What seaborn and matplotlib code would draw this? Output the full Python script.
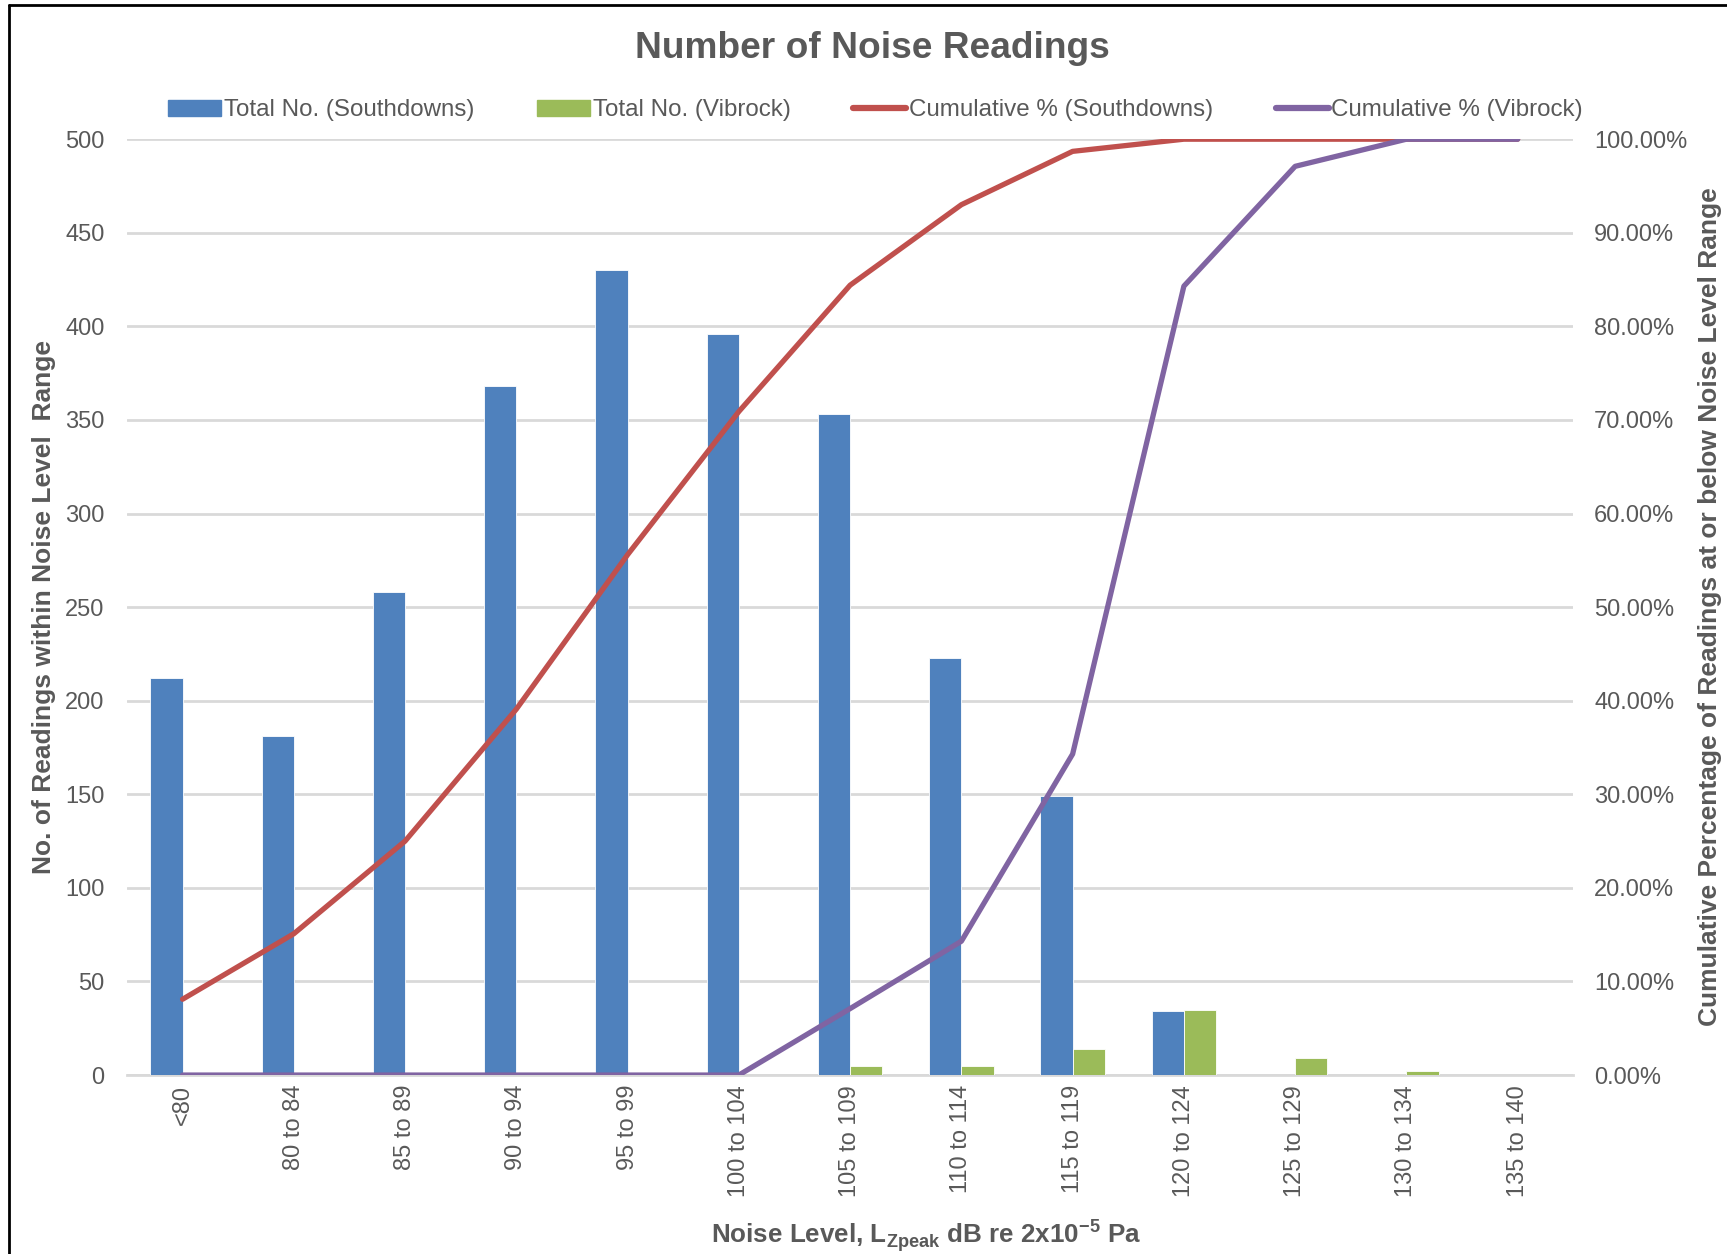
import numpy as np
import pandas as pd
import matplotlib
matplotlib.use("Agg")
import matplotlib.pyplot as plt
import seaborn as sns
from matplotlib.patches import Patch
from matplotlib.lines import Line2D
from matplotlib.ticker import FuncFormatter

# data
categories = ["<80", "80 to 84", "85 to 89", "90 to 94", "95 to 99", "100 to 104",
              "105 to 109", "110 to 114", "115 to 119", "120 to 124", "125 to 129",
              "130 to 134", "135 to 140"]
total_southdowns = [212, 181, 258, 368, 430, 396, 353, 223, 149, 34, 0, 0, 0]
total_vibrock = [0, 0, 0, 0, 0, 0, 5, 5, 14, 35, 9, 2, 0]
cum_southdowns = [8.1, 15.1, 25.0, 39.1, 55.6, 70.9, 84.4, 93.0, 98.7, 100, 100, 100, 100]
cum_vibrock = [0, 0, 0, 0, 0, 0, 7.1, 14.3, 34.3, 84.3, 97.1, 100, 100]

blue = "#4F81BD"
green = "#9BBB59"
red = "#C0504D"
purple = "#8064A2"
grey_text = "#595959"
grid_col = "#D9D9D9"

sns.set_style("white")
plt.rcParams["font.family"] = ["Liberation Sans", "DejaVu Sans"]
plt.rcParams["mathtext.fontset"] = "custom"
plt.rcParams["mathtext.rm"] = "Liberation Sans:bold"
plt.rcParams["mathtext.bf"] = "Liberation Sans:bold"

df = pd.DataFrame({
    "range": categories * 2,
    "count": total_southdowns + total_vibrock,
    "source": ["Southdowns"] * len(categories) + ["Vibrock"] * len(categories),
})

fig = plt.figure(figsize=(17.27, 12.54), dpi=100)
ax = fig.add_axes([0.0735, 0.1427, 0.8375, 0.7463])

sns.barplot(data=df, x="range", y="count", hue="source", order=categories,
            hue_order=["Southdowns", "Vibrock"], palette=[blue, green],
            saturation=1, width=0.58, gap=0, legend=False, ax=ax,
            edgecolor="white", linewidth=0.6, zorder=3)

ax.set_xlim(-0.5, len(categories) - 0.5)
ax.set_ylim(0, 500)
ax.set_yticks(range(0, 501, 50))
ax.yaxis.grid(True, color=grid_col, linewidth=2)
ax.set_axisbelow(True)
for s in ["top", "right", "left"]:
    ax.spines[s].set_visible(False)
ax.spines["bottom"].set_color(grid_col)
ax.spines["bottom"].set_linewidth(2)
ax.tick_params(axis="y", length=0, pad=16, labelsize=17, labelcolor=grey_text)
ax.tick_params(axis="x", length=0, pad=7, labelsize=17, labelcolor=grey_text)
ax.set_xticks(range(len(categories)))
ax.set_xticklabels(categories, rotation=90)
ax.set_xlabel("")
ax.set_ylabel("")

ax2 = ax.twinx()
pos = np.arange(len(categories))
sns.lineplot(x=pos, y=cum_southdowns, ax=ax2, color=red, linewidth=3.8)
sns.lineplot(x=pos, y=cum_vibrock, ax=ax2, color=purple, linewidth=3.8)
ax2.set_ylim(0, 100)
ax2.set_yticks(range(0, 101, 10))
ax2.yaxis.set_major_formatter(FuncFormatter(lambda v, p: f"{v:.2f}%"))
ax2.tick_params(axis="y", length=0, pad=15, labelsize=17, labelcolor=grey_text)
for s in ax2.spines.values():
    s.set_visible(False)
ax2.set_xlim(-0.5, len(categories) - 0.5)

fig.text(0.505, 0.9617, "Number of Noise Readings", ha="center", va="center",
         fontsize=26.7, fontweight="bold", color=grey_text)
fig.text(0.0255, 0.516, "No. of Readings within Noise Level  Range", rotation=90,
         ha="center", va="center", fontsize=19, fontweight="bold", color=grey_text)
fig.text(0.990, 0.516, "Cumulative Percentage of Readings at or below Noise Level Range",
         rotation=90, ha="center", va="center", fontsize=19, fontweight="bold",
         color=grey_text)
fig.text(0.536, 0.0144, r"Noise Level, L$_{\mathrm{Zpeak}}$ dB re 2x10$^{\mathrm{-5}}$ Pa",
         ha="center", va="center", fontsize=18.7, fontweight="bold", color=grey_text)

handles = [Patch(color=blue), Patch(color=green),
           Line2D([], [], color=red, linewidth=4.5), Line2D([], [], color=purple, linewidth=4.5)]
labels = ["Total No. (Southdowns)", "Total No. (Vibrock)",
          "Cumulative % (Southdowns)", "Cumulative % (Vibrock)"]
leg = fig.legend(handles, labels, loc="center", bbox_to_anchor=(0.507, 0.912), ncol=4,
                 frameon=False, fontsize=17.4, handlelength=2.2, handleheight=0.6,
                 handletextpad=0.1, columnspacing=2.6)
for t in leg.get_texts():
    t.set_color(grey_text)

# chart border (left and top edges visible in the reference)
fig.add_artist(Line2D([0.005, 0.005], [0, 0.996], color="black", linewidth=2,
                      transform=fig.transFigure))
fig.add_artist(Line2D([0.005, 1.0], [0.996, 0.996], color="black", linewidth=2,
                      transform=fig.transFigure))

fig.savefig("out.png", dpi=100)
